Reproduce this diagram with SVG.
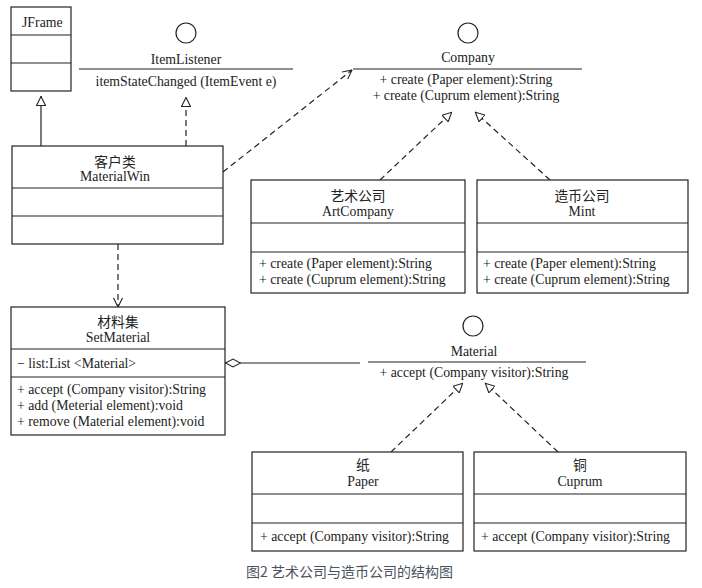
<svg xmlns="http://www.w3.org/2000/svg" width="702" height="588" viewBox="0 0 702 588">
<style>
.box{fill:#fff;stroke:#222;stroke-width:1.2}
.ln{stroke:#222;stroke-width:1.2;fill:none}
.dash{stroke:#222;stroke-width:1.2;fill:none;stroke-dasharray:6,4}
text{font-family:"Liberation Serif","Noto Sans CJK SC",serif;font-size:13.8px;fill:#222}
.c{text-anchor:middle}
.cap{font-family:"Noto Sans CJK SC","Noto Sans",sans-serif;font-size:14px;fill:#4a5260}
</style>
<defs>
<marker id="tri" viewBox="0 0 10 10" refX="10" refY="5" markerWidth="10" markerHeight="10" markerUnits="userSpaceOnUse" orient="auto">
<path d="M0.5,0.5 L9.5,5 L0.5,9.5 Z" fill="#fff" stroke="#222" stroke-width="1.1"/>
</marker>
<marker id="open" viewBox="0 0 10 10" refX="9.5" refY="5" markerWidth="10" markerHeight="10" markerUnits="userSpaceOnUse" orient="auto">
<path d="M0.5,0.5 L9.5,5 L0.5,9.5" fill="none" stroke="#222" stroke-width="1.1"/>
</marker>
<marker id="dia" viewBox="0 0 16 10" refX="0" refY="5" markerWidth="16" markerHeight="10" markerUnits="userSpaceOnUse" orient="auto">
<path d="M0.5,5 L8,1 L15.5,5 L8,9 Z" fill="#fff" stroke="#222" stroke-width="1.1"/>
</marker>
</defs>

<g id="connectors">
<line class="ln" x1="41" y1="146" x2="41" y2="96" marker-end="url(#tri)"/>
<line class="dash" x1="186" y1="146" x2="186" y2="97" marker-end="url(#tri)"/>
<line class="dash" x1="223" y1="172" x2="352" y2="70" marker-end="url(#open)"/>
<line class="dash" x1="380" y1="180" x2="452" y2="112" marker-end="url(#tri)"/>
<line class="dash" x1="550" y1="180" x2="475" y2="112" marker-end="url(#tri)"/>
<line class="dash" x1="118" y1="244" x2="118" y2="307" marker-end="url(#open)"/>
<line class="ln" x1="225" y1="363" x2="360" y2="363" marker-start="url(#dia)"/>
<line class="dash" x1="391" y1="452" x2="463" y2="383" marker-end="url(#tri)"/>
<line class="dash" x1="558" y1="452" x2="485" y2="383" marker-end="url(#tri)"/>
</g>

<g id="JFrame">
<rect class="box" x="11" y="7" width="60" height="84"/>
<line class="ln" x1="11" y1="35" x2="71" y2="35"/>
<line class="ln" x1="11" y1="63" x2="71" y2="63"/>
<text x="22" y="27">JFrame</text>
</g>

<g id="ItemListener">
<circle class="ln" cx="186" cy="33" r="10"/>
<text class="c" x="186" y="64">ItemListener</text>
<line class="ln" x1="79" y1="69" x2="293" y2="69"/>
<text class="c" x="186" y="86">itemStateChanged (ItemEvent e)</text>
</g>

<g id="MaterialWin">
<rect class="box" x="12" y="146" width="211" height="98"/>
<line class="ln" x1="12" y1="188" x2="223" y2="188"/>
<line class="ln" x1="12" y1="216" x2="223" y2="216"/>
<text class="c" x="115" y="167">客户类</text>
<text class="c" x="115" y="181">MaterialWin</text>
</g>

<g id="Company">
<circle class="ln" cx="468" cy="33" r="10"/>
<text class="c" x="468" y="62">Company</text>
<line class="ln" x1="353" y1="69" x2="582" y2="69"/>
<text class="c" x="466" y="84">+ create (Paper element):String</text>
<text class="c" x="466" y="100">+ create (Cuprum element):String</text>
</g>

<g id="ArtCompany">
<rect class="box" x="251" y="180" width="214" height="113"/>
<line class="ln" x1="251" y1="223" x2="465" y2="223"/>
<line class="ln" x1="251" y1="252" x2="465" y2="252"/>
<text class="c" x="358" y="201">艺术公司</text>
<text class="c" x="358" y="216">ArtCompany</text>
<text x="259" y="268">+ create (Paper element):String</text>
<text x="259" y="284">+ create (Cuprum element):String</text>
</g>

<g id="Mint">
<rect class="box" x="477" y="180" width="211" height="113"/>
<line class="ln" x1="477" y1="223" x2="688" y2="223"/>
<line class="ln" x1="477" y1="252" x2="688" y2="252"/>
<text class="c" x="582" y="201">造币公司</text>
<text class="c" x="582" y="216">Mint</text>
<text x="483" y="268">+ create (Paper element):String</text>
<text x="483" y="284">+ create (Cuprum element):String</text>
</g>

<g id="SetMaterial">
<rect class="box" x="11" y="307" width="214" height="128"/>
<line class="ln" x1="11" y1="349" x2="225" y2="349"/>
<line class="ln" x1="11" y1="377" x2="225" y2="377"/>
<text class="c" x="118" y="327">材料集</text>
<text class="c" x="118" y="342">SetMaterial</text>
<text x="17" y="368">− list:List &lt;Material&gt;</text>
<text x="17" y="394">+ accept (Company visitor):String</text>
<text x="17" y="410">+ add (Meterial element):void</text>
<text x="17" y="426">+ remove (Material element):void</text>
</g>

<g id="Material">
<circle class="ln" cx="473" cy="326" r="10"/>
<text class="c" x="474" y="356">Material</text>
<line class="ln" x1="368" y1="362" x2="586" y2="362"/>
<text class="c" x="474" y="377">+ accept (Company visitor):String</text>
</g>

<g id="Paper">
<rect class="box" x="252" y="452" width="211" height="99"/>
<line class="ln" x1="252" y1="494" x2="463" y2="494"/>
<line class="ln" x1="252" y1="523" x2="463" y2="523"/>
<text class="c" x="363" y="470">纸</text>
<text class="c" x="363" y="486">Paper</text>
<text x="260" y="541">+ accept (Company visitor):String</text>
</g>

<g id="Cuprum">
<rect class="box" x="474" y="452" width="212" height="99"/>
<line class="ln" x1="474" y1="494" x2="686" y2="494"/>
<line class="ln" x1="474" y1="523" x2="686" y2="523"/>
<text class="c" x="580" y="470">铜</text>
<text class="c" x="580" y="486">Cuprum</text>
<text x="481" y="541">+ accept (Company visitor):String</text>
</g>

<text class="cap" x="246" y="577">图2 艺术公司与造币公司的结构图</text>
</svg>
